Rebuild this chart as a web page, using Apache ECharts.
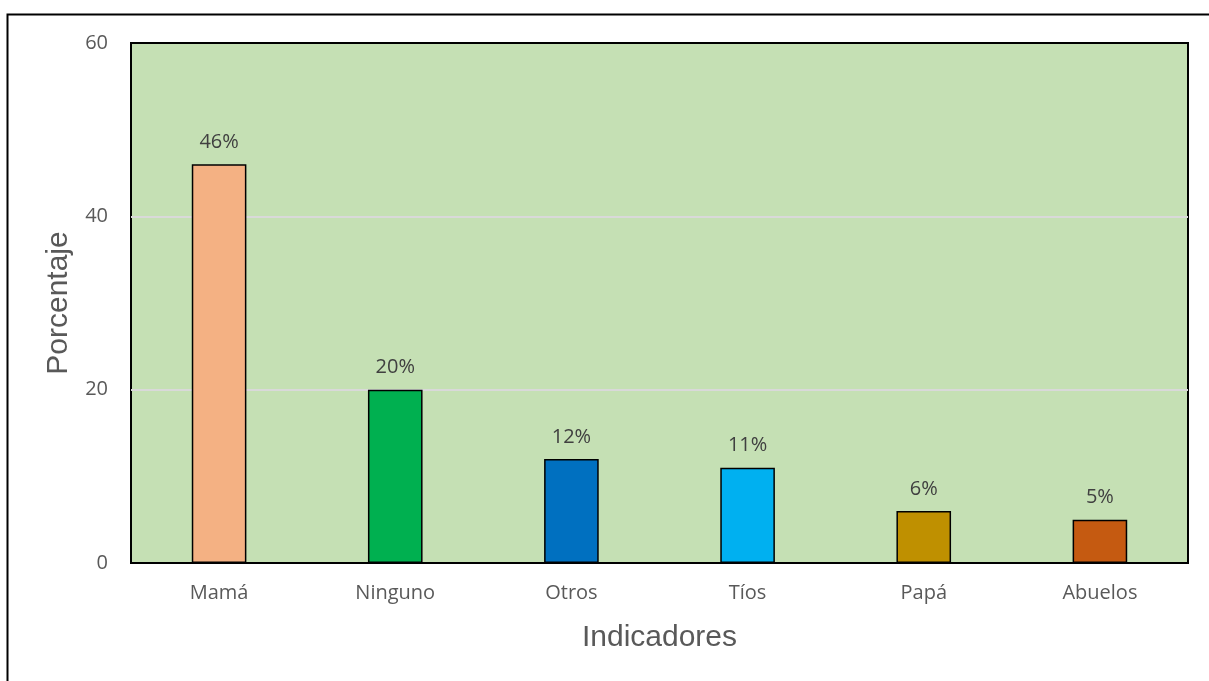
<!DOCTYPE html>
<html><head><meta charset="utf-8">
<script src="https://cdn.jsdelivr.net/npm/echarts@6/dist/echarts.min.js"></script>
<style>html,body{margin:0;padding:0;background:#fff}#c{width:1209px;height:681px}</style>
</head><body><div id="c"></div>
<script>
const categories = ['Mamá','Ninguno','Otros','Tíos','Papá','Abuelos'];
const values = [46, 20, 12, 11, 6, 5];
const colors = ['#F4B183','#00B050','#0070C0','#00B0F0','#BF9000','#C55A11'];
const yTicks = [0, 20, 40, 60];

const chart = echarts.init(document.getElementById('c'));
const font = '"Open Sans", "Noto Sans", sans-serif';
chart.setOption({
  animation: false,
  textStyle: {fontFamily: font},
  graphic: [{type:'rect', shape:{x:7.5,y:14.5,width:1220,height:700}, style:{fill:null, stroke:'#000', lineWidth:2}, z:-1}],
  grid: {left:131, right:21, top:43, bottom:118, show:true, backgroundColor:'#C5E0B4', borderColor:'#000', borderWidth:2},
  xAxis: {
    type:'category', data: categories,
    name:'Indicadores', nameLocation:'middle', nameGap:60,
    nameTextStyle:{fontSize:30, color:'#595959', fontFamily:'"Liberation Sans", Arial, sans-serif'},
    axisLine:{show:true, lineStyle:{color:'#000', width:2}},
    axisTick:{show:false},
    axisLabel:{fontSize:20, color:'#595959', margin:20}
  },
  yAxis: {
    type:'value', min:yTicks[0], max:yTicks[yTicks.length-1], interval:20,
    name:'Porcentaje', nameLocation:'middle', nameGap:56,
    nameTextStyle:{fontSize:30, color:'#595959', fontFamily:'"Liberation Sans", Arial, sans-serif'},
    axisLine:{show:false}, axisTick:{show:false},
    axisLabel:{fontSize:20, color:'#595959', margin:23},
    splitLine:{show:true, lineStyle:{color:['#000','#D9D9D9','#D9D9D9','#000'], width:2}}
  },
  series: [{
    type:'bar', barWidth:'31%',
    data: values.map((v,i)=>({value:v, itemStyle:{color:colors[i]}})),
    itemStyle:{borderColor:'#000', borderWidth:1.5},
    label:{show:true, position:'top', distance:12, fontSize:20, color:'#404040', formatter: p => p.value + '%'}
  }]
});
</script></body></html>
